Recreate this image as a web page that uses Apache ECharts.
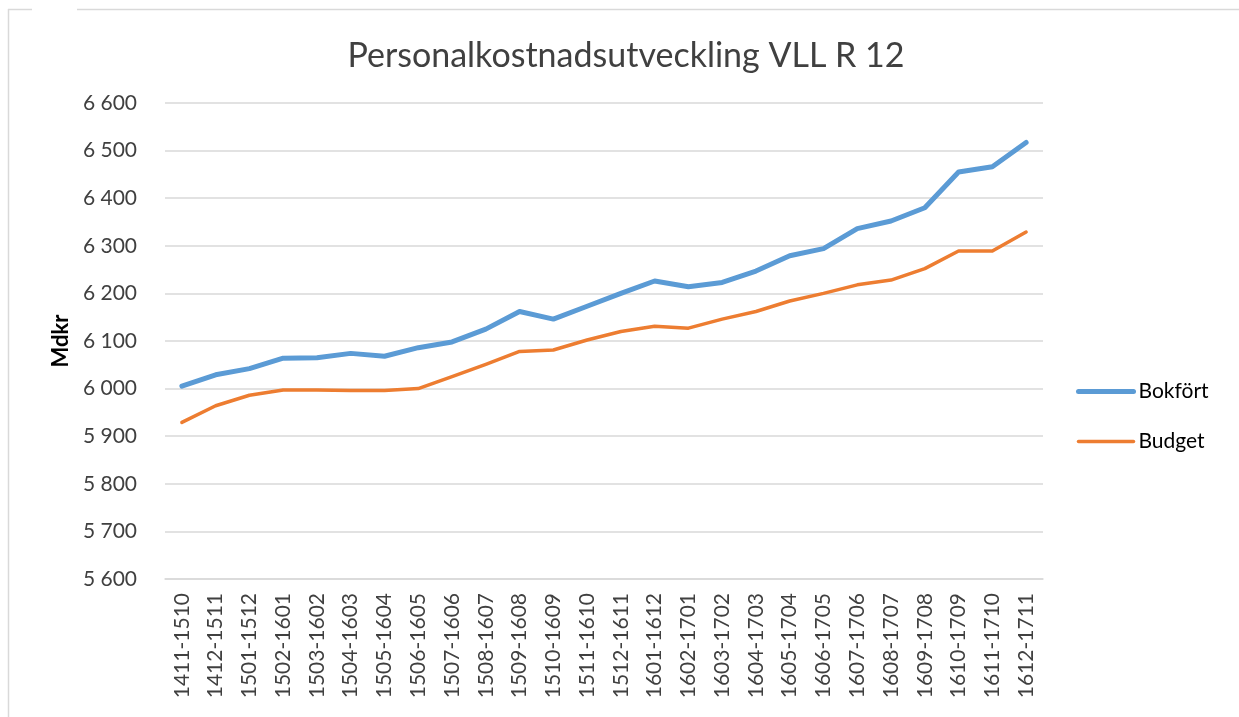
<!DOCTYPE html>
<html>
<head>
<meta charset="utf-8">
<script src="https://cdn.jsdelivr.net/npm/echarts@6/dist/echarts.min.js"></script>
<style>
  html, body { margin: 0; padding: 0; background: #fff; }
  #chart { width: 1239px; height: 717px; }
</style>
</head>
<body>
<div id="chart"></div>
<script>
// perioder (rullande 12 mån)
var categories = [
  '1411-1510', '1412-1511', '1501-1512', '1502-1601', '1503-1602', '1504-1603',
  '1505-1604', '1506-1605', '1507-1606', '1508-1607', '1509-1608', '1510-1609',
  '1511-1610', '1512-1611', '1601-1612', '1602-1701', '1603-1702', '1604-1703',
  '1605-1704', '1606-1705', '1607-1706', '1608-1707', '1609-1708', '1610-1709',
  '1611-1710', '1612-1711'
];
var bokfort = [
  6005, 6029, 6042, 6064, 6065, 6074, 6068, 6086, 6098, 6125, 6162, 6146,
  6173, 6200, 6226, 6214, 6223, 6247, 6279, 6294, 6336, 6352, 6380, 6455,
  6466, 6517
];
var budget = [
  5929, 5964, 5986, 5997, 5997, 5996, 5996, 6000, 6025, 6051, 6078, 6081,
  6102, 6120, 6131, 6127, 6146, 6162, 6184, 6200, 6218, 6228, 6252, 6289,
  6289, 6329
];
var yMin = 5600, yMax = 6600, yStep = 100;

var FONT = 'Lato, "Open Sans", sans-serif';
var BLUE = '#5B9BD5', ORANGE = '#ED7D31';

function fmt(v) {
  // 6600 -> "6 600"
  return String(v).replace(/\B(?=(\d{3})+(?!\d))/g, ' ');
}

var chart = echarts.init(document.getElementById('chart'));
chart.setOption({
  animation: false,
  backgroundColor: '#fff',
  textStyle: { fontFamily: FONT },
  title: {
    text: 'Personalkostnadsutveckling VLL R 12',
    left: 621, top: 34, textAlign: 'center',
    textStyle: { fontFamily: FONT, fontSize: 34, fontWeight: 'normal', color: '#404040' }
  },
  legend: {
    orient: 'vertical',
    left: 1071, top: 376,
    itemWidth: 55, itemHeight: 14, itemGap: 29,
    textStyle: { fontFamily: FONT, fontSize: 21, color: '#000' },
    data: [
      { name: 'Bokfört', itemStyle: { opacity: 0 }, lineStyle: { width: 5, color: BLUE, cap: 'round' } },
      { name: 'Budget', itemStyle: { opacity: 0 }, lineStyle: { width: 3.5, color: ORANGE, cap: 'round' } }
    ]
  },
  grid: { left: 165, right: 196, top: 103, bottom: 138, containLabel: false },
  graphic: [
    { type: 'line', shape: { x1: 8, y1: 9.5, x2: 1239, y2: 9.5 }, style: { stroke: '#D9D9D9', lineWidth: 1.5 } },
    { type: 'line', shape: { x1: 8.5, y1: 9, x2: 8.5, y2: 717 }, style: { stroke: '#D9D9D9', lineWidth: 1.5 } },
    { type: 'rect', shape: { x: 32, y: 8, width: 45, height: 3 }, style: { fill: '#fff' } }
  ],
  xAxis: {
    type: 'category',
    data: categories,
    boundaryGap: true,
    axisLine: { show: true, lineStyle: { color: '#D9D9D9', width: 1.5 } },
    axisTick: { show: false },
    axisLabel: {
      rotate: 90, margin: 14, fontSize: 21, color: '#404040', fontFamily: FONT,
      interval: 0
    },
    splitLine: { show: false }
  },
  yAxis: {
    type: 'value',
    min: yMin, max: yMax, interval: yStep,
    name: 'Mdkr',
    nameLocation: 'middle',
    nameRotate: 90,
    nameGap: 92,
    nameTextStyle: { fontFamily: FONT, fontSize: 22, fontWeight: 'bold', color: '#000' },
    axisLine: { show: false },
    axisTick: { show: false },
    axisLabel: {
      margin: 28, fontSize: 21, color: '#404040', fontFamily: FONT,
      formatter: function (v) { return fmt(v); }
    },
    splitLine: { lineStyle: { color: '#D9D9D9', width: 1.5 } }
  },
  series: [
    {
      name: 'Bokfört', type: 'line', data: bokfort,
      symbol: 'none', smooth: false,
      lineStyle: { width: 5, color: BLUE, cap: 'round', join: 'round' },
      itemStyle: { color: BLUE }
    },
    {
      name: 'Budget', type: 'line', data: budget,
      symbol: 'none', smooth: false,
      lineStyle: { width: 3.5, color: ORANGE, cap: 'round', join: 'round' },
      itemStyle: { color: ORANGE }
    }
  ]
});
</script>
</body>
</html>
